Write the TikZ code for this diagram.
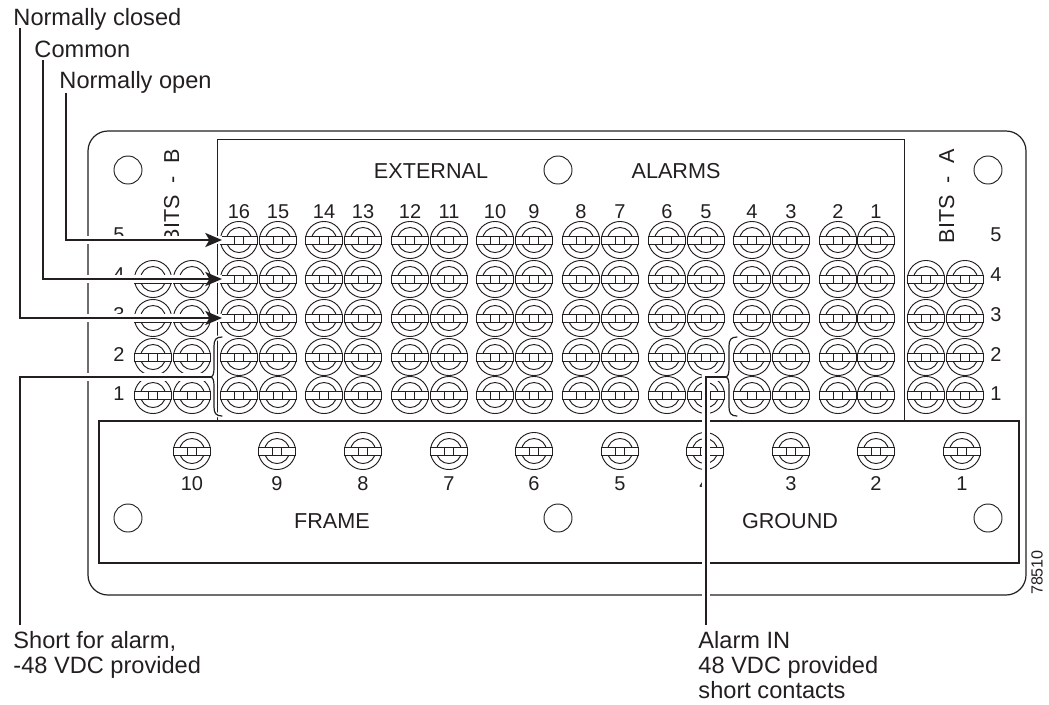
\documentclass[tikz,border=0pt]{standalone}
\usepackage{fontspec}
\setmainfont{Liberation Sans}
\usetikzlibrary{arrows.meta}
\definecolor{inkblack}{HTML}{231F20}
\tikzset{
	terminal/.pic={
		\draw (0,0) circle (13.9pt);
		\draw (0,0) circle (9.4pt);
		\draw[fill=white] (-13.8pt,-3pt) rectangle (13.8pt,3pt);
		\draw (-3.4pt,-3pt) rectangle (3.4pt,3pt);
	},
	hole/.style={draw, circle, minimum size=21pt, inner sep=0pt},
	lbl/.style={inner sep=0pt, font=\fontsize{15pt}{18pt}\selectfont},
	biglbl/.style={inner sep=0pt, font=\fontsize{16.2pt}{18pt}\selectfont},
	outlbl/.style={inner sep=0pt, align=left, font=\fontsize{17.7pt}{18.8pt}\selectfont},
	wire/.style={line width=1.7pt, preaction={draw=white, line width=6.5pt, -}},
	arrowwire/.style={wire, -{Stealth[length=12.5pt, width=10.5pt, inset=3pt]}},
	bracket/.style={line width=0.9pt, line cap=round, preaction={draw=white, line width=3pt}}
}
\begin{document}
\begin{tikzpicture}[x=0.75pt, y=-0.75pt, line width=0.7pt, draw=inkblack, text=inkblack]
	\useasboundingbox (0,0) rectangle (1049,704);

	% draw the board and the two panels
	\draw[line width=0.9pt, rounded corners=15pt] (88,131) rectangle (1026,595);
	\draw (217,139) rectangle (904,421);
	\draw[line width=0.8pt] (99,421) rectangle (1019,563);

	% draw mounting holes
	\node[hole] (holeTL) at (128,170) {};
	\node[hole] (holeTM) at (558,170) {};
	\node[hole] (holeTR) at (988,170) {};
	\node[hole] (holeBL) at (128,518) {};
	\node[hole] (holeBM) at (558,518) {};
	\node[hole] (holeBR) at (988,518) {};

	% draw alarm terminals and their numbers
	\foreach \x/\n in {239/16,278/15,324/14,363/13,410/12,449/11,495/10,534/9,581/8,620/7,667/6,706/5,752/4,791/3,838/2,876/1} {
		\foreach \y in {240,279,318,357,395}
			\pic at (\x,\y) {terminal};
		\node[lbl] (alarmNum\n) at (\x,212) {\n};
	}

	% draw BITS terminals
	\foreach \x in {153,192,926,965}
		\foreach \y in {279,318,357,395}
			\pic at (\x,\y) {terminal};

	% draw row numbers
	\foreach \y/\n in {235/5,275/4,315/3,355/2,394/1} {
		\node[lbl] (rowB\n) at (119,\y) {\n};
		\node[lbl] (rowA\n) at (996,\y) {\n};
	}

	% draw frame ground terminals
	\foreach \x/\n in {192/10,277/9,363/8,449/7,534/6,620/5,705/4,791/3,876/2,962/1} {
		\pic at (\x,451) {terminal};
		\node[lbl] (groundNum\n) at (\x,484) {\n};
	}

	% draw panel titles
	\node[biglbl] (external) at (431,171) {EXTERNAL};
	\node[biglbl] (alarms) at (676,171) {ALARMS};
	\node[biglbl] (frame) at (332,521) {FRAME};
	\node[biglbl] (ground) at (790,521) {GROUND};
	\node[biglbl, rotate=90, anchor=base west] (bitsB) at (179,243.5) {BITS~~-~~B};
	\node[biglbl, rotate=90, anchor=base west] (bitsA) at (954,243.5) {BITS~~-~~A};
	\node[inner sep=0pt, rotate=90, font=\fontsize{12.1pt}{14pt}\selectfont] (partNo) at (1037,572.5) {78510};

	% draw outside labels
	\node[outlbl, anchor=base west] (lblClosed) at (13,25) {Normally closed};
	\node[outlbl, anchor=base west] (lblCommon) at (34,57) {Common};
	\node[outlbl, anchor=base west] (lblOpen) at (59,88) {Normally open};
	\node[outlbl, anchor=north west] (lblShort) at (13,631) {Short for alarm,\\-48 VDC provided};
	\node[outlbl, anchor=north west] (lblAlarm) at (698,631) {Alarm IN\\48 VDC provided\\short contacts};

	% draw the braces
	\foreach \x in {0,515}
		\draw[bracket, shift={(\x,0)}] (222,337) .. controls (216,337) and (214,340) .. (214,346) -- (214,368)
			.. controls (214,374) and (213,377) .. (210,377)
			.. controls (213,377) and (214,380) .. (214,386) -- (214,407)
			.. controls (214,413) and (216,416) .. (222,416);

	% draw wires
	\coordinate (wireClosed) at (20,28);
	\coordinate (wireCommon) at (43,60);
	\coordinate (wireOpen) at (66,93);
	\coordinate (wireShort) at (20,625);
	\coordinate (wireAlarm) at (706,625);
	\coordinate (pinOpen) at (222,240);
	\coordinate (pinCommon) at (222,279);
	\coordinate (pinClosed) at (222,318);
	\coordinate (braceL) at (211,377);
	\coordinate (braceR) at (726,377);
	\draw[arrowwire] (wireOpen) |- (pinOpen);
	\draw[arrowwire] (wireCommon) |- (pinCommon);
	\draw[arrowwire] (wireClosed) |- (pinClosed);
	\draw[wire] (wireShort) |- (braceL);
	\draw[wire] (wireAlarm) |- (braceR);
\end{tikzpicture}
\end{document}
